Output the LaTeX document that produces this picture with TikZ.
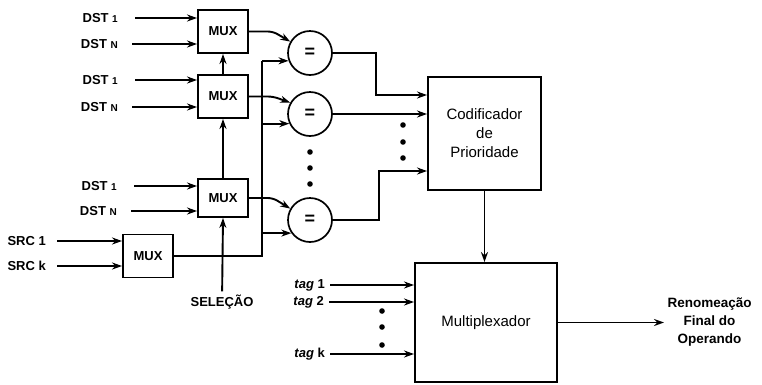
\documentclass[tikz,border=0pt]{standalone}
\usepackage{fontspec}
\setmainfont{Liberation Sans}
\usetikzlibrary{arrows.meta, positioning}

\begin{document}
\begin{tikzpicture}[
    x=1pt, y=-1pt,
    every node/.style={font=\fontsize{13}{15}\selectfont\bfseries},
    mux/.style={draw, line width=1.9pt, minimum width=50pt, minimum height=43pt, inner sep=2pt},
    cmp/.style={draw, circle, line width=1.7pt, minimum size=44pt, inner sep=0pt, font=\fontsize{18}{18}\selectfont\bfseries},
    blk/.style={draw, line width=1.9pt, align=center, font=\fontsize{15}{19}\selectfont},
    lbl/.style={anchor=east, inner sep=0pt},
    ln/.style={line width=1.9pt},
    arr/.style={-{Stealth[length=10pt, width=7pt]}, line width=1.9pt}
]
\useasboundingbox (0,0) rectangle (762,384);

% multiplexadores dos destinos
\node[mux] (m1) at (223,31.5) {MUX};
\node[mux] (m2) at (223,96.5) {MUX};
\node[mux, minimum height=38pt] (m3) at (223,198) {MUX};
\node[mux] (ms) at (148,256) {MUX};

% comparadores
\node[cmp] (c1) at (310,53) {=};
\node[cmp] (c2) at (310,114) {=};
\node[cmp] (c3) at (310,220) {=};

\node[blk, minimum width=113pt, minimum height=113pt] (cod) at (484.5,133.5) {Codificador\\de\\Prioridade};
\node[blk, minimum width=142pt, minimum height=119pt] (mx) at (486,322.5) {Multiplexador};

% entradas
\node[lbl] (d1a) at (118,18) {DST {\fontsize{10}{12}\selectfont 1}};
\node[lbl] (dna) at (118,44) {DST {\fontsize{10}{12}\selectfont N}};
\node[lbl] (d1b) at (118,80) {DST {\fontsize{10}{12}\selectfont 1}};
\node[lbl] (dnb) at (118,107) {DST {\fontsize{10}{12}\selectfont N}};
\node[lbl] (d1c) at (117,186) {DST {\fontsize{10}{12}\selectfont 1}};
\node[lbl] (dnc) at (117,211) {DST {\fontsize{10}{12}\selectfont N}};
\node[lbl] (s1) at (46,241) {SRC 1};
\node[lbl] (sk) at (46,266) {SRC k};
\node (sel) at (222,302) {SELEÇÃO};
\node[lbl] (t1) at (325,285) {{\itshape tag} 1};
\node[lbl] (t2) at (324,302) {{\itshape tag} 2};
\node[lbl] (tk) at (325,354) {{\itshape tag} k};
\node[align=center, anchor=west, font=\fontsize{13.5}{18}\selectfont\bfseries] (out) at (664,322.5) {Renomeação\\Final do\\Operando};

\draw[arr, shorten <=17pt] (d1a) -- (d1a -| m1.west);
\draw[arr, shorten <=14pt] (dna) -- (dna -| m1.west);
\draw[arr, shorten <=17pt] (d1b) -- (d1b -| m2.west);
\draw[arr, shorten <=14pt] (dnb) -- (dnb -| m2.west);
\draw[arr, shorten <=17pt] (d1c) -- (d1c -| m3.west);
\draw[arr, shorten <=14pt] (dnc) -- (dnc -| m3.west);
\draw[arr, shorten <=11pt] (s1) -- (s1 -| ms.west);
\draw[arr, shorten <=11pt] (sk) -- (sk -| ms.west);
\draw[arr] (sel) -- (m3.south);
\draw[arr] (m3) -- (m2);
\draw[arr] (m2) -- (m1);

% saidas dos MUX para os comparadores
\draw[arr, rounded corners=5pt] (m1.east) -- ++(24,0) -- (c1.150);
\draw[arr, rounded corners=5pt] (m2.east) -- ++(24,0) -- (c2.150);
\draw[arr, rounded corners=5pt] (m3.east) -- ++(24,0) -- (c3.150);

% barramento da fonte
\coordinate (bus) at (262,0);
\draw[ln] (ms.east) -| (bus |- c1.200);
\draw[arr] (bus |- c1.200) -- (c1.200);
\draw[arr] (bus |- c2.205) -- (c2.205);
\draw[arr] (bus |- c3.215) -- (c3.215);

\draw[arr] (c1.east) -- ++(43,0) |- ([yshift=38.5pt]cod.west);
\draw[arr] (c2.east) -- (c2.east -| cod.west);
\draw[arr] (c3.east) -- ++(46,0) |- ([yshift=-37.5pt]cod.west);
\draw[arr] (cod) -- (cod |- mx.north);

\draw[arr, shorten <=5pt] (t1) -- (t1 -| mx.west);
\draw[arr, shorten <=5pt] (t2) -- (t2 -| mx.west);
\draw[arr, shorten <=5pt] (tk) -- (tk -| mx.west);
\draw[arr] (mx.east) -- (out.west);

\foreach \y in {152,168,184} \fill (310,\y) circle (2.8pt);
\foreach \y in {125,142,158} \fill (403,\y) circle (2.8pt);
\foreach \y in {311,327,345} \fill (382,\y) circle (2.8pt);
\end{tikzpicture}
\end{document}
